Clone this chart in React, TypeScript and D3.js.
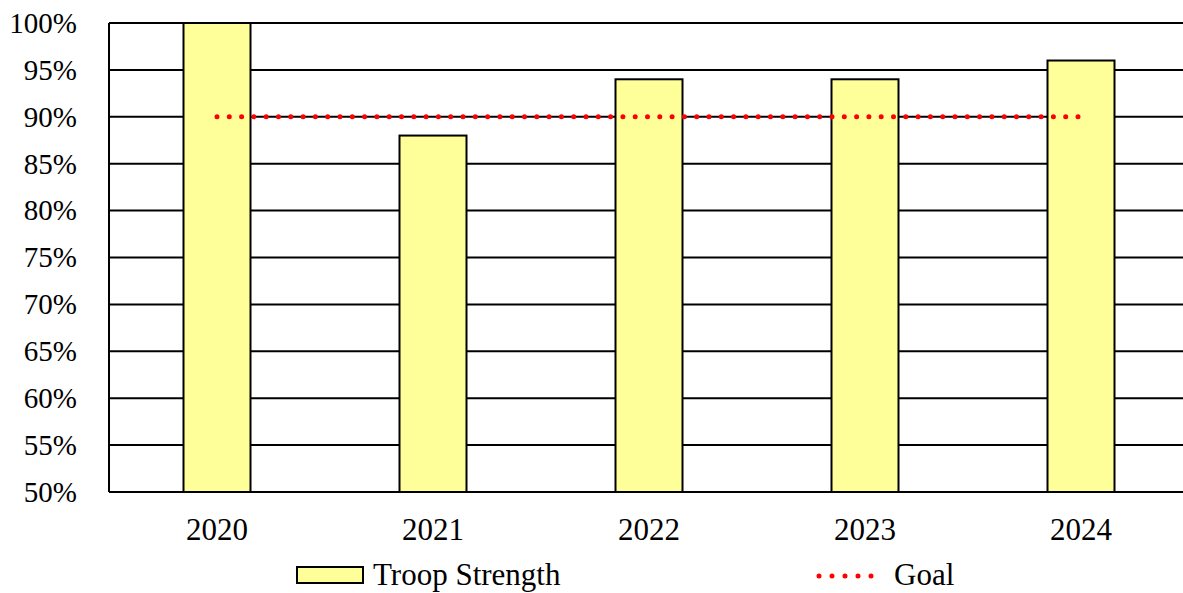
import React from 'react'
import * as d3 from 'd3'

const years = ['2020', '2021', '2022', '2023', '2024']
const strength = [100, 88, 94, 94, 96]
const goal = [90, 90, 90, 90, 90]
const yTicks = [50, 55, 60, 65, 70, 75, 80, 85, 90, 95, 100]

const W = 1183
const H = 593
const margin = { top: 23, right: -6, bottom: 101, left: 109 }
const font = "'Liberation Serif', 'Times New Roman', Times, serif"

export default function App() {
  const xScale = d3.scaleBand<string>()
    .domain(years)
    .range([margin.left, W - margin.right])
    .paddingInner(0)
    .paddingOuter(0)

  const yScale = d3.scaleLinear()
    .domain([50, 100])
    .range([H - margin.bottom, margin.top])

  const barW = 67
  const cx = (y: string) => (xScale(y) as number) + xScale.bandwidth() / 2

  const goalLine = d3.line<number>()
    .x((d, i) => cx(years[i]))
    .y(d => yScale(d))

  return (
    <svg width={W} height={H} style={{ position: 'absolute', left: 0, top: 0, background: '#fff', fontFamily: font }}>
      {/* grid */}
      {yTicks.map(t => (
        <line key={'g' + t}
          x1={margin.left} x2={W - margin.right}
          y1={yScale(t)} y2={yScale(t)}
          stroke='#000' strokeWidth={2} />
      ))}
      <line x1={margin.left} x2={margin.left} y1={yScale(100)} y2={yScale(50)} stroke='#000' strokeWidth={2} />

      {/* bars */}
      {years.map((y, i) => (
        <rect key={'b' + y}
          x={cx(y) - barW / 2}
          y={yScale(strength[i])}
          width={barW}
          height={yScale(50) - yScale(strength[i])}
          fill='#FFFF99' stroke='#000' strokeWidth={2} />
      ))}

      {/* goal */}
      <path d={goalLine(goal) || ''} fill='none' stroke='#FF0000' strokeWidth={5}
        strokeLinecap='round' strokeDasharray='0 12.3' />

      {/* y labels */}
      {yTicks.map(t => (
        <text key={'yl' + t} x={77} y={yScale(t)} dy='0.34em' textAnchor='end'
          fontSize={29} fill='#000'>{t}%</text>
      ))}

      {/* x labels */}
      {years.map(y => (
        <text key={'xl' + y} x={cx(y)} y={540} textAnchor='middle'
          fontSize={31} fill='#000'>{y}</text>
      ))}

      {/* legend */}
      <rect x={297} y={567} width={66} height={16} fill='#FFFF99' stroke='#000' strokeWidth={2} />
      <text x={373} y={585} fontSize={31} fill='#000'>Troop Strength</text>
      <line x1={819} x2={884} y1={576} y2={576} stroke='#FF0000' strokeWidth={5}
        strokeLinecap='round' strokeDasharray='0 13' />
      <text x={894} y={585} fontSize={31} fill='#000'>Goal</text>
    </svg>
  )
}
